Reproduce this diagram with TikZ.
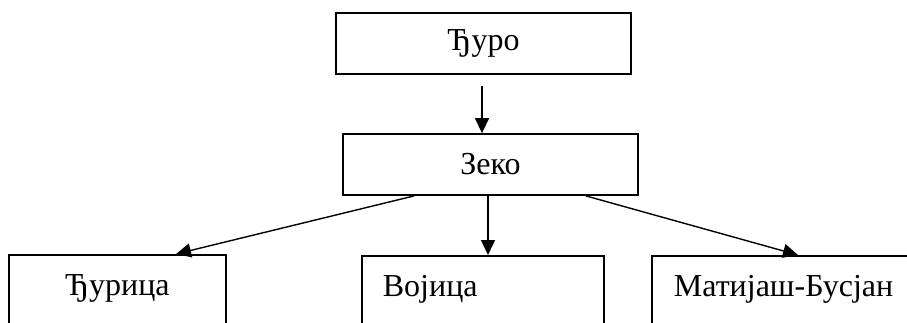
\documentclass[tikz,border=0pt]{standalone}
\usepackage{fontspec}
\setmainfont{Liberation Serif}
\usetikzlibrary{arrows.meta}
\begin{document}
\begin{tikzpicture}[x=1pt,y=-1pt,
  font=\fontsize{32}{38}\selectfont,
  topbox/.style={draw, line width=1.8pt, minimum width=295pt, minimum height=61pt, inner sep=0pt},
  lowbox/.style={draw, line width=1.8pt, anchor=north west, inner ysep=0pt, text height=41pt, text depth=60pt},
  arr/.style={line width=1.4pt, -{Triangle[length=15pt,width=14pt]}}]
\clip (0,0) rectangle (907,322);
\node[topbox] (a) at (483.5,43.5) {Ђуро};
\node[topbox] (b) at (490.5,164.5) {Зеко};
\node[lowbox, inner xsep=0pt, text width=217pt, align=center] (c1) at (8,254) {Ђурица};
\node[lowbox, inner xsep=21pt, text width=200pt, align=left] (c2) at (361,255) {Војица};
\node[lowbox, inner xsep=22pt, text width=280pt, align=left] (c3) at (651,255) {Матијаш-Бусјан};
\draw[arr] ([xshift=-1.5pt,yshift=-11pt]a.south) -- ([xshift=-1.5pt]a.south |- b.north);
\draw[arr] ([xshift=72pt]b.south west) -- ([xshift=168pt]c1.north west);
\draw[arr] ([xshift=-2.5pt]b.south) -- ([xshift=-2.5pt]b.south |- c2.north);
\draw[arr] ([xshift=-53pt]b.south east) -- ([xshift=147pt]c3.north west);
\end{tikzpicture}
\end{document}
